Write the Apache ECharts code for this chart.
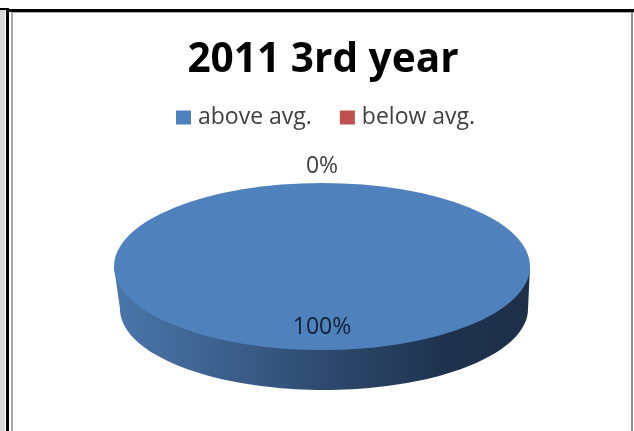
<!DOCTYPE html>
<html>
<head>
<meta charset="utf-8">
<style>html,body{margin:0;padding:0;background:#fff}#c{width:634px;height:431px}</style>
<script src="https://cdn.jsdelivr.net/npm/echarts@6/dist/echarts.min.js"></script>
</head>
<body>
<div id="c"></div>
<script>
const titleText = '2011 3rd year';
const categories = ['above avg.', 'below avg.'];
const values = [100, 0];
const colors = ['#4F81BD', '#C0504D'];

const total = values.reduce((a, b) => a + b, 0);
const TOP = { cx: 322, cy: 266.5, rx: 208, ry: 83.5 };
const BASE = { cx: 324, cy: 309, rx: 204, ry: 81 };

function sliceRenderer(index) {
  let before = 0;
  for (let i = 0; i < index; i++) before += values[i];
  return function (params, api) {
    const value = api.value(0);
    const share = value / total;
    const start = -Math.PI / 2 + before / total * 2 * Math.PI;
    const end = start + share * 2 * Math.PI;
    const mid = (start + end) / 2;
    const children = [];
    if (share > 0) {
      const pts = [[TOP.cx - TOP.rx, TOP.cy]];
      for (let i = 0; i <= 90; i++) {
        const a = Math.PI - i / 90 * Math.PI;
        pts.push([BASE.cx + BASE.rx * Math.cos(a), BASE.cy + BASE.ry * Math.sin(a)]);
      }
      pts.push([TOP.cx + TOP.rx, TOP.cy]);
      children.push({
        type: 'polygon',
        shape: { points: pts },
        style: {
          fill: new echarts.graphic.LinearGradient(0, 0, 1, 0, [
            { offset: 0, color: '#4A76AB' },
            { offset: 0.3, color: '#3A5D88' },
            { offset: 0.55, color: '#2B4668' },
            { offset: 0.8, color: '#1F324D' },
            { offset: 1, color: '#1E3048' }
          ])
        }
      });
      children.push({
        type: 'group',
        x: TOP.cx, y: TOP.cy,
        scaleY: TOP.ry / TOP.rx,
        children: [{
          type: 'sector',
          shape: { cx: 0, cy: 0, r0: 0, r: TOP.rx, startAngle: start, endAngle: end, clockwise: true },
          style: { fill: colors[index] }
        }]
      });
    }
    const inside = share > 0.5;
    const f = inside ? 0.72 : 1;
    const offset = inside ? 0 : 18;
    const lx = TOP.cx + (TOP.rx * f + offset) * Math.cos(mid);
    const ly = TOP.cy + (TOP.ry * f + offset) * Math.sin(mid) + 1;
    children.push({
      type: 'text',
      style: {
        text: Math.round(share * 100) + '%',
        x: lx, y: ly,
        align: 'center', verticalAlign: 'middle',
        font: '23px "Open Sans"',
        fill: inside ? '#12202F' : '#404040'
      }
    });
    return { type: 'group', children };
  };
}

const chart = echarts.init(document.getElementById('c'), null, { renderer: 'canvas' });
chart.setOption({
  animation: false,
  backgroundColor: '#fff',
  title: {
    text: titleText,
    left: 318, top: 35, textAlign: 'center',
    textStyle: { fontFamily: 'Open Sans', fontWeight: 'bold', fontSize: 40.6, color: '#000' }
  },
  legend: {
    data: categories,
    left: 176, top: 106, padding: 0,
    icon: 'rect', itemWidth: 15, itemHeight: 14, itemGap: 28,
    textStyle: { fontFamily: 'Open Sans', fontSize: 23, color: '#404040', padding: [0, 0, 0, 2] }
  },
  graphic: [
    { type: 'rect', z: -1, shape: { x: 0, y: 10, width: 5, height: 421 }, style: { fill: '#d8d8d8' } },
    { type: 'rect', z: -1, shape: { x: 0, y: 8, width: 9, height: 2 }, style: { fill: '#000' } },
    { type: 'rect', z: -1, shape: { x: 6, y: 9, width: 3, height: 422 }, style: { fill: '#000' } },
    { type: 'rect', z: -1, shape: { x: 8, y: 9, width: 626, height: 3 }, style: { fill: '#000' } },
    { type: 'rect', z: -1, shape: { x: 11, y: 12, width: 623, height: 1 }, style: { fill: '#a8a8a8' } },
    { type: 'rect', z: -1, shape: { x: 11, y: 12, width: 2, height: 419 }, style: { fill: '#a8a8a8' } },
    { type: 'rect', z: -1, shape: { x: 631, y: 12, width: 2, height: 419 }, style: { fill: '#909090' } }
  ],
  series: categories.map((name, i) => ({
    type: 'custom',
    name,
    coordinateSystem: 'none',
    itemStyle: { color: colors[i] },
    data: [[values[i]]],
    renderItem: sliceRenderer(i)
  }))
});
</script>
</body>
</html>
